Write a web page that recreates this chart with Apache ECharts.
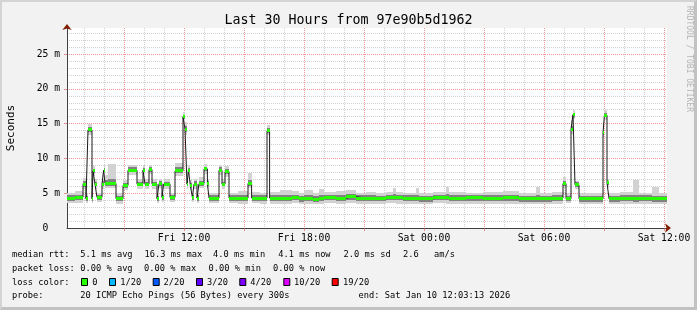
<!DOCTYPE html>
<html><head><meta charset="utf-8">
<script src="https://cdn.jsdelivr.net/npm/echarts@6/dist/echarts.min.js"></script>
<style>
html,body{margin:0;padding:0;background:#f2f2f2;}
#wrap{position:relative;width:697px;height:310px;overflow:hidden;}
#chart{width:697px;height:310px;}
#frame{position:absolute;left:0;top:0;width:697px;height:310px;box-sizing:border-box;border-style:solid;border-width:2px 3px 3px 2px;border-color:#d4d4d4 #c2c2c2 #c2c2c2 #d4d4d4;pointer-events:none;}
</style></head><body>
<div id="wrap"><div id="chart"></div><div id="frame"></div></div>
<script>
// ---------- data (times in hours since Fri 00:00, values in ms) ----------
const segHour = [
6.15, 6.55, 6.95, 7.10, 7.20, 7.40, 7.45, 7.55, 7.65, 7.90,
7.98, 8.05, 8.20, 8.60, 8.95, 9.20, 9.65, 9.95, 10.05, 10.25,
10.40, 10.65, 10.75, 10.90, 10.98, 11.30, 11.55, 11.95, 12.05, 12.15,
12.22, 12.32, 12.42, 12.50, 12.65, 12.75, 13.00, 13.17, 13.25, 13.75,
13.90, 14.05, 14.25, 14.70, 15.20, 15.38, 15.80, 16.15, 16.28, 16.80,
17.40, 17.75, 18.00, 18.45, 18.75, 19.00, 19.60, 20.10, 20.60, 21.10,
21.60, 22.10, 22.45, 22.60, 22.95, 23.60, 23.75, 24.45, 25.10, 25.25,
26.10, 26.95, 27.95, 28.75, 29.60, 29.80, 30.40, 30.95, 31.10, 31.35,
31.45, 31.55, 31.75, 32.30, 32.95, 33.02, 33.15, 33.25, 33.80, 34.45,
34.75, 35.40, 35.75];
const endHour = 36.15;

const median = [
4.3, 4.4, 6.3, 4.2, 14.1, 4.2, 8.2, 6.3, 4.4, 6.3,
8.3, 6.4, 6.4, 4.2, 6.1, 8.3, 6.3, 8.3, 6.3, 8.4,
6.3, 4.2, 6.4, 4.4, 6.3, 4.4, 8.2, 16.0, 14.2, 6.3,
8.3, 6.1, 4.4, 6.3, 4.3, 6.4, 8.5, 6.4, 4.3, 8.3,
6.3, 8.1, 4.3, 4.3, 6.4, 4.3, 4.3, 14.0, 4.3, 4.3,
4.4, 4.2, 4.3, 4.1, 4.3, 4.4, 4.3, 4.5, 4.3, 4.3,
4.2, 4.4, 4.4, 4.4, 4.3, 4.3, 4.2, 4.4, 4.4, 4.3,
4.35, 4.3, 4.35, 4.2, 4.2, 4.2, 4.3, 6.4, 4.2, 14.2,
16.3, 6.2, 4.2, 4.2, 13.7, 16.2, 6.5, 4.2, 4.3, 4.2,
4.3, 4.2, 4.2];

const pingMin = [
3.6, 3.6, 5.6, 3.6, 13.4, 3.6, 7.5, 5.6, 3.7, 5.6,
7.6, 5.7, 5.7, 3.5, 5.5, 7.6, 5.6, 7.6, 5.6, 7.7,
5.6, 3.6, 5.7, 3.7, 5.6, 3.7, 7.5, 15.2, 13.3, 5.6,
7.6, 5.5, 3.7, 5.6, 3.6, 5.7, 7.8, 5.7, 3.6, 7.6,
5.6, 7.4, 3.6, 3.5, 5.7, 3.6, 3.5, 13.3, 3.5, 3.4,
3.6, 3.5, 3.4, 3.4, 3.5, 3.6, 3.5, 3.6, 3.5, 3.4,
3.5, 3.6, 3.6, 3.5, 3.5, 3.5, 3.4, 3.6, 3.5, 3.5,
3.5, 3.4, 3.5, 3.4, 3.5, 3.4, 3.5, 5.7, 3.6, 13.5,
15.6, 5.6, 3.5, 3.4, 13.0, 15.5, 5.8, 3.5, 3.4, 3.5,
3.5, 3.4, 3.5];

const pingLowMid = [
3.9, 4.0, 5.9, 3.9, 13.8, 3.9, 7.9, 6.0, 4.0, 6.0,
8.0, 6.1, 6.1, 3.9, 5.8, 8.0, 6.0, 8.0, 6.0, 8.1,
6.0, 3.9, 6.1, 4.0, 6.0, 4.0, 7.9, 15.6, 13.8, 6.0,
8.0, 5.8, 4.0, 6.0, 3.9, 6.1, 8.2, 6.1, 3.9, 8.0,
6.0, 7.8, 3.9, 3.9, 6.1, 3.9, 3.9, 13.7, 3.9, 3.9,
4.0, 3.8, 3.9, 3.8, 3.9, 4.0, 3.9, 4.0, 3.9, 3.9,
3.9, 4.0, 4.0, 4.0, 3.9, 3.9, 3.8, 4.0, 4.0, 3.9,
3.9, 3.9, 3.9, 3.8, 3.8, 3.8, 3.9, 6.0, 3.9, 13.9,
16.0, 5.9, 3.8, 3.8, 13.4, 15.9, 6.2, 3.8, 3.9, 3.8,
3.9, 3.8, 3.8];

const pingHighMid = [
4.7, 4.8, 6.7, 4.6, 14.5, 4.6, 8.5, 6.6, 4.7, 6.7,
8.6, 6.9, 7.0, 4.6, 6.5, 8.7, 6.6, 8.6, 6.6, 8.7,
6.6, 4.6, 6.7, 4.7, 6.6, 4.7, 8.7, 16.3, 14.6, 6.7,
8.6, 6.5, 4.7, 6.7, 4.7, 6.8, 8.8, 6.7, 4.7, 8.7,
6.6, 8.5, 4.7, 4.7, 6.9, 4.7, 4.7, 14.4, 4.7, 4.7,
4.8, 4.6, 4.7, 4.6, 4.8, 4.8, 4.7, 4.9, 4.7, 4.7,
4.6, 4.8, 4.9, 4.8, 4.7, 4.8, 4.6, 4.8, 4.9, 4.7,
4.7, 4.7, 4.7, 4.6, 4.7, 4.6, 4.7, 6.8, 4.6, 14.7,
16.6, 6.6, 4.6, 4.6, 14.0, 16.5, 6.8, 4.6, 4.7, 4.7,
4.7, 4.6, 4.6];

const pingMax = [
5.1, 5.3, 7.2, 5.0, 14.9, 5.0, 8.9, 7.0, 5.1, 7.1,
9.0, 7.6, 9.2, 5.0, 6.9, 9.1, 7.0, 9.0, 7.0, 9.1,
7.0, 5.0, 7.1, 5.1, 7.0, 5.1, 9.4, 16.7, 15.2, 7.1,
9.0, 6.9, 5.1, 7.1, 5.1, 7.3, 9.2, 7.1, 5.1, 9.1,
7.0, 8.9, 5.1, 5.3, 7.9, 5.2, 5.1, 14.8, 5.2, 5.5,
5.3, 5.1, 5.4, 5.0, 5.6, 5.2, 5.3, 5.4, 5.1, 5.2,
5.1, 5.2, 5.7, 5.2, 5.1, 5.8, 5.1, 5.2, 5.9, 5.2,
5.1, 5.2, 5.3, 5.1, 5.9, 5.1, 5.2, 7.3, 5.0, 15.5,
16.9, 6.8, 5.1, 5.0, 14.4, 16.9, 7.0, 5.1, 5.2, 6.9,
5.1, 5.9, 5.1];

// ---------- ticks / labels ----------
const xLabelHours = [12, 18, 24, 30, 36];
const xLabelTexts = ['Fri 12:00', 'Fri 18:00', 'Sat 00:00', 'Sat 06:00', 'Sat 12:00'];
const hourGrid = [7, 8, 10, 11, 13, 14, 16, 17, 19, 20, 22, 23, 25, 26, 28, 29, 31, 32, 34, 35];
const majorHourGrid = [9, 12, 15, 18, 21, 24, 27, 30, 33, 36];
const yLabelValues = [0, 5, 10, 15, 20, 25];
const yLabelTexts = ['0  ', '5 m', '10 m', '15 m', '20 m', '25 m'];
const msGrid = [1, 2, 3, 4, 6, 7, 8, 9, 11, 12, 13, 14, 16, 17, 18, 19, 21, 22, 23, 24, 26, 27, 28];
const majorMsGrid = [5, 10, 15, 20, 25];

// ---------- texts ----------
const titleText = 'Last 30 Hours from 97e90b5d1962';
const yAxisTitle = 'Seconds';
const watermark = 'RRDTOOL / TOBI OETIKER';
const rttLegend = ['median rtt:', '5.1 ms avg', '16.3 ms max', '4.0 ms min', '4.1 ms now', '2.0 ms sd', '2.6', 'am/s'];
const lossLegend = ['packet loss:', '0.00 % avg', '0.00 % max', '0.00 % min', '0.00 % now'];
const lossColorTitle = 'loss color:';
const lossColorLabels = ['0', '1/20', '2/20', '3/20', '4/20', '10/20', '19/20'];
const lossColors = ['#26ff00', '#00b8ff', '#0059ff', '#5e00ff', '#7e00ff', '#dd00ff', '#ff0000'];
const probeLegend = ['probe:', '20 ICMP Echo Pings (56 Bytes) every 300s', 'end: Sat Jan 10 12:03:13 2026'];

// ---------- layout / style ----------
const FONT = '"DejaVu Sans Mono", monospace';
const X_MIN = 6.15, X_MAX = 36.15, Y_MAX = 28.75;
const rttX = [12, 80.3, 144.6, 213, 278.3, 343.6, 403, 434];
const lossX = [12, 80.3, 144, 208.6, 273];
const boxX = [81, 109, 152.7, 196, 239.3, 283.3, 331.7];
const boxLabelX = [92.3, 120.3, 163.6, 207, 250.3, 294, 343];
const probeX = [12, 80.3, 358.6];
const lineY = [255, 268.5, 282.5, 296];
const LEG_FONT = '8.7px ' + FONT;
const MINOR = '#d0d0d0';
const MAJOR = 'rgba(222,79,79,0.6)';
const GREEN_PX = 3;

// per-interval items: [start, end, low, high]
function segItems(lowArr, highArr) {
  return segHour.map((h, i) => [h, i + 1 < segHour.length ? segHour[i + 1] : endHour, lowArr[i], highArr[i]]);
}
function bandSeries(lowArr, highArr, color, z) {
  return {
    type: 'custom', silent: true, clip: true, z: z,
    data: segItems(lowArr, highArr),
    encode: { x: [0, 1], y: [2, 3] },
    renderItem: function (params, api) {
      const a = api.coord([api.value(0), api.value(3)]);
      const b = api.coord([api.value(1), api.value(2)]);
      const x0 = Math.round(a[0]), x1 = Math.round(b[0]);
      const y0 = Math.round(a[1]), y1 = Math.round(b[1]);
      return { type: 'rect', shape: { x: x0, y: y0, width: x1 - x0, height: Math.max(1, y1 - y0) },
        style: { fill: color } };
    }
  };
}
function greenSeries() {
  return {
    type: 'custom', silent: true, clip: true, z: 5,
    data: segItems(median, median),
    encode: { x: [0, 1], y: [2] },
    renderItem: function (params, api) {
      const a = api.coord([api.value(0), api.value(2)]);
      const b = api.coord([api.value(1), api.value(2)]);
      const x0 = Math.round(a[0]), x1 = Math.round(b[0]);
      const y0 = Math.round(a[1] - GREEN_PX / 2);
      return { type: 'rect', shape: { x: x0, y: y0, width: x1 - x0, height: GREEN_PX },
        style: { fill: lossColors[0] } };
    }
  };
}
function medianPoints() {
  const d = segHour.map((h, i) => [h, median[i]]);
  d.push([endHour, median[median.length - 1]]);
  return d;
}

function gridAxis(kind, values, color, withTick, arrow) {
  const ax = {
    type: 'value', show: true,
    min: kind === 'x' ? X_MIN : 0, max: kind === 'x' ? X_MAX : Y_MAX,
    position: kind === 'x' ? 'bottom' : 'left',
    axisLine: { show: false, onZero: false },
    axisTick: { show: withTick, customValues: values, length: 3, lineStyle: { color: color, width: 1 } },
    axisLabel: { show: false },
    splitLine: { show: true, lineStyle: { color: color, width: 1, type: [1, 1] } }
  };
  if (arrow) {
    ax.axisLine = { show: true, onZero: false, symbol: ['none', 'arrow'], symbolSize: [7, 6], symbolOffset: [0, 4],
      lineStyle: { color: '#7f1f00', width: 0 } };
  }
  return ax;
}

const graphics = [];
function txt(x, y, s, font, fill) {
  graphics.push({ type: 'text', x: x, y: y, silent: true,
    style: { text: s, font: font || LEG_FONT, fill: fill || '#000', verticalAlign: 'middle', align: 'left' } });
}
rttLegend.forEach((s, i) => txt(rttX[i], lineY[0], s));
lossLegend.forEach((s, i) => txt(lossX[i], lineY[1], s));
txt(12, lineY[2], lossColorTitle);
lossColorLabels.forEach((s, i) => {
  graphics.push({ type: 'rect', silent: true, shape: { x: boxX[i] + 0.5, y: lineY[2] - 4, width: 6, height: 7 },
    style: { fill: lossColors[i], stroke: '#000', lineWidth: 1 } });
  txt(boxLabelX[i], lineY[2], s);
});
probeLegend.forEach((s, i) => txt(probeX[i], lineY[3], s));
graphics.push({ type: 'text', x: 689, y: 59, rotation: -Math.PI / 2, silent: true,
  style: { text: watermark, font: '8px ' + FONT, fill: '#b4b4b4', align: 'center', verticalAlign: 'middle' } });

const chart = echarts.init(document.getElementById('chart'), null, { renderer: 'canvas' });
chart.setOption({
  animation: false,
  backgroundColor: '#f2f2f2',
  textStyle: { fontFamily: FONT },
  title: { text: titleText, left: 'center', top: 9,
    textStyle: { fontFamily: FONT, fontSize: 13.3, fontWeight: 'normal', color: '#000' } },
  grid: { left: 67, right: 30, top: 28, bottom: 82, show: true, backgroundColor: '#ffffff', borderWidth: 0,
    containLabel: false, outerBoundsMode: 'none' },
  xAxis: [
    { type: 'value', min: X_MIN, max: X_MAX, position: 'bottom',
      axisLine: { show: true, onZero: false, lineStyle: { color: '#404040', width: 1 } },
      axisTick: { show: false },
      axisLabel: { show: true, customValues: xLabelHours, margin: 5,
        formatter: v => xLabelTexts[xLabelHours.indexOf(v)],
        fontFamily: FONT, fontSize: 9.7, color: '#000' },
      splitLine: { show: false } },
    gridAxis('x', hourGrid, MINOR, false, true),
    gridAxis('x', majorHourGrid, MAJOR, true, false)
  ],
  yAxis: [
    { type: 'value', min: 0, max: Y_MAX, position: 'left',
      name: yAxisTitle, nameLocation: 'middle', nameGap: 50, nameRotate: 90,
      nameTextStyle: { fontFamily: FONT, fontSize: 11, color: '#000' },
      axisLine: { show: true, onZero: false, lineStyle: { color: '#404040', width: 1 } },
      axisTick: { show: false },
      axisLabel: { show: true, customValues: yLabelValues, margin: 7,
        formatter: v => yLabelTexts[yLabelValues.indexOf(v)],
        fontFamily: FONT, fontSize: 9.7, color: '#000' },
      splitLine: { show: false } },
    gridAxis('y', msGrid, MINOR, false, true),
    gridAxis('y', majorMsGrid, MAJOR, true, false)
  ],
  series: [
    bandSeries(pingMin, pingMax, '#d2d2d2', 2),
    bandSeries(pingLowMid, pingHighMid, '#828282', 3),
    { type: 'line', step: 'end', data: medianPoints(), symbol: 'none', silent: true, z: 4,
      lineStyle: { color: '#1a1a1a', width: 1 } },
    greenSeries()
  ],
  graphic: graphics
});
</script>
</body></html>
